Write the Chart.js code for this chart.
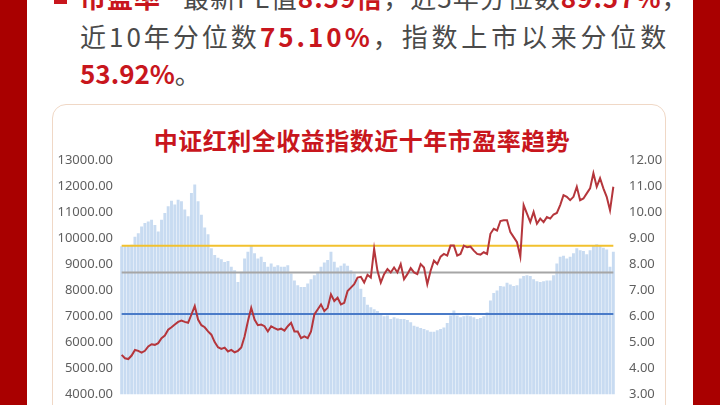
<!DOCTYPE html>
<html>
<head>
<meta charset="utf-8">
<script src="https://cdn.jsdelivr.net/npm/chart.js@4.4.1/dist/chart.umd.min.js"></script>
<style>
  html, body { margin: 0; padding: 0; }
  body { width: 720px; height: 405px; overflow: hidden; position: relative; background: #fff;
         font-family: "Noto Sans CJK SC", "Noto Sans", sans-serif; }
  .band { position: absolute; top: 0; bottom: 0; width: 27px; background: #a90000; }
  .txt { position: absolute; left: 80px; font-size: 26px; line-height: 38px; letter-spacing: 3px;
         color: #4a4a4a; white-space: nowrap; }
  .r { color: #c8161d; font-weight: bold; }
  .tight { letter-spacing: 0; }
  .wide { letter-spacing: 3.8px; }
  #mark { position: absolute; left: 54px; top: -10px; width: 13px; height: 14px; background: #c8161d; }
  #card { position: absolute; left: 52px; top: 104px; width: 612px; height: 360px;
          border: 1px solid #f0d8c6; border-radius: 14px; background: #fff; }
  #title { position: absolute; left: 6px; right: 0; top: 20px; text-align: center; font-size: 24px;
           line-height: 30px; font-weight: bold; color: #c8161d; letter-spacing: 0.5px; }
  #wrap { position: absolute; left: 52px; top: 138px; width: 614px; height: 278px; }
</style>
</head>
<body>
<div class="band" style="left:0"></div>
<div class="band" style="left:693px"></div>
<div id="mark"></div>
<div class="txt" style="top:-22px;letter-spacing:1px"><span class="r" style="margin-right:22px">市盈率</span>最新PE值<span class="r">8.59倍</span>，近5年分位数<span class="r">89.57%</span>，</div>
<div class="txt" style="top:17px">近10年分位数<span class="r">75.10%</span>，<span class="wide">指数上市以来分位数</span></div>
<div class="txt" style="top:54px"><span class="r tight">53.92%</span>。</div>
<div id="card"><div id="title">中证红利全收益指数近十年市盈率趋势</div></div>
<div id="wrap"><canvas id="c"></canvas></div>
<script>
// index level (left axis)
const indexLevel = [
  5511, 5380, 5350, 5485, 5700, 5665, 5600, 5665, 5832, 5920,
  5895, 5960, 6154, 6250, 6475, 6570, 6673, 6775, 6830, 6775,
  6740, 7060, 7382, 6867, 6650, 6570, 6410, 6285, 6000, 5805,
  5740, 5790, 5639, 5700, 5610, 5665, 5790, 6218, 6801, 7316,
  6867, 6650, 6673, 6610, 6410, 6610, 6541, 6475, 6515, 6440,
  6610, 6740, 6410, 6410, 6154, 6218, 6154, 6410, 7060, 7254,
  7448, 7190, 7316, 7835, 7576, 7704, 7448, 7510, 7962, 8094,
  8223, 8478, 8505, 8285, 8585, 8478,
  9579, 8738, 8285, 8610, 8802, 8674, 8866, 8674, 8997, 8413,
  8610, 8840, 8674, 8610, 8997, 8866, 8223, 8738, 9125, 8997,
  9280, 9385, 9320, 9706, 9706, 9320, 9385, 9706, 9641, 9667,
  9513, 9385, 9360, 9450, 9385, 10160, 10353, 10287, 10650, 10675,
  10675, 10222, 10030, 9834, 9280, 11260, 10934, 10609, 10996, 10547,
  10741, 10609, 10800, 10741, 10900, 10960, 11260, 11643, 11578, 11450,
  11578, 11965, 11450, 11516, 11709, 11903, 12484, 11965, 12290, 11903,
  11578, 11060, 11965
];

// PE (right axis)
const peValue = [
  8.68, 8.72, 8.70, 8.74, 9.05, 9.18, 9.44, 9.57, 9.63, 9.70,
  9.50, 9.25, 9.70, 9.96, 10.22, 10.43, 10.28, 10.47, 10.41, 10.09,
  9.83, 10.73, 11.05, 10.41, 9.89, 9.40, 9.14, 8.60, 8.34, 8.24,
  8.18, 8.08, 8.11, 7.89, 7.76, 7.31, 7.70, 8.21, 8.47, 8.73,
  8.41, 8.21, 8.28, 8.08, 7.89, 8.02, 7.89, 7.95, 7.89, 7.89,
  7.95, 7.63, 7.37, 7.18, 7.12, 7.12, 7.25, 7.41, 7.57, 7.70,
  7.89, 8.06, 8.15, 8.47, 8.09, 7.86, 7.93, 8.02, 7.93, 7.76,
  7.63, 7.41, 7.05, 6.73, 6.43, 6.34,
  6.26, 6.19, 6.09, 5.99, 6.02, 5.89, 5.95, 5.91, 5.89, 5.89,
  5.85, 5.76, 5.63, 5.59, 5.54, 5.50, 5.46, 5.40, 5.40, 5.46,
  5.50, 5.56, 5.73, 6.02, 6.21, 6.02, 5.95, 5.99, 6.02, 5.99,
  5.95, 5.89, 5.93, 5.99, 6.15, 6.60, 6.89, 6.98, 7.15, 7.14,
  7.28, 7.21, 7.15, 7.18, 7.44, 7.54, 7.57, 7.54, 7.41, 7.34,
  7.31, 7.34, 7.37, 7.37, 7.57, 8.02, 8.28, 8.32, 8.21, 8.28,
  8.41, 8.60, 8.53, 8.50, 8.37, 8.53, 8.70, 8.76, 8.70, 8.62,
  8.56, 7.89, 8.47
];

// reference PE levels drawn as flat lines (yellow / gray / blue)
const peLevels = [8.70, 7.67, 6.08];
const levelColors = ['#f2c12e', '#a6a6a6', '#4a7bc8'];

const periods = peValue.map((_, i) => i + 1);

const levelSets = peLevels.map((lv, i) => ({
  type: 'line',
  data: periods.map(() => lv),
  yAxisID: 'yR',
  borderColor: levelColors[i],
  borderWidth: 2,
  pointRadius: 0,
  order: 1
}));

const tickFont = { family: "'Noto Sans', sans-serif", size: 13 };

new Chart(document.getElementById('c'), {
  type: 'bar',
  data: {
    labels: periods,
    datasets: [
      {
        type: 'line',
        data: indexLevel,
        yAxisID: 'yL',
        borderColor: '#b5363c',
        borderWidth: 2,
        pointRadius: 0,
        tension: 0,
        order: 0
      },
      ...levelSets,
      {
        data: peValue,
        yAxisID: 'yR',
        backgroundColor: '#c8dbf1',
        barPercentage: 0.88,
        categoryPercentage: 1,
        order: 2
      }
    ]
  },
  options: {
    responsive: true,
    maintainAspectRatio: false,
    animation: false,
    layout: { padding: 0 },
    plugins: { legend: { display: false }, tooltip: { enabled: false } },
    scales: {
      x: { display: false },
      yL: {
        position: 'left',
        min: 4000,
        max: 13000,
        grid: { display: false, drawTicks: false },
        border: { display: false },
        ticks: {
          stepSize: 1000,
          padding: 7,
          color: '#5f5f5f',
          font: tickFont,
          callback: v => v.toFixed(2)
        },
        afterFit: s => { s.width = 68; }
      },
      yR: {
        position: 'right',
        min: 3,
        max: 12,
        grid: { display: false, drawTicks: false },
        border: { display: false },
        ticks: {
          stepSize: 1,
          padding: 14,
          color: '#5f5f5f',
          font: tickFont,
          callback: v => v.toFixed(2)
        },
        afterFit: s => { s.width = 51; }
      }
    }
  }
});
</script>
</body>
</html>
